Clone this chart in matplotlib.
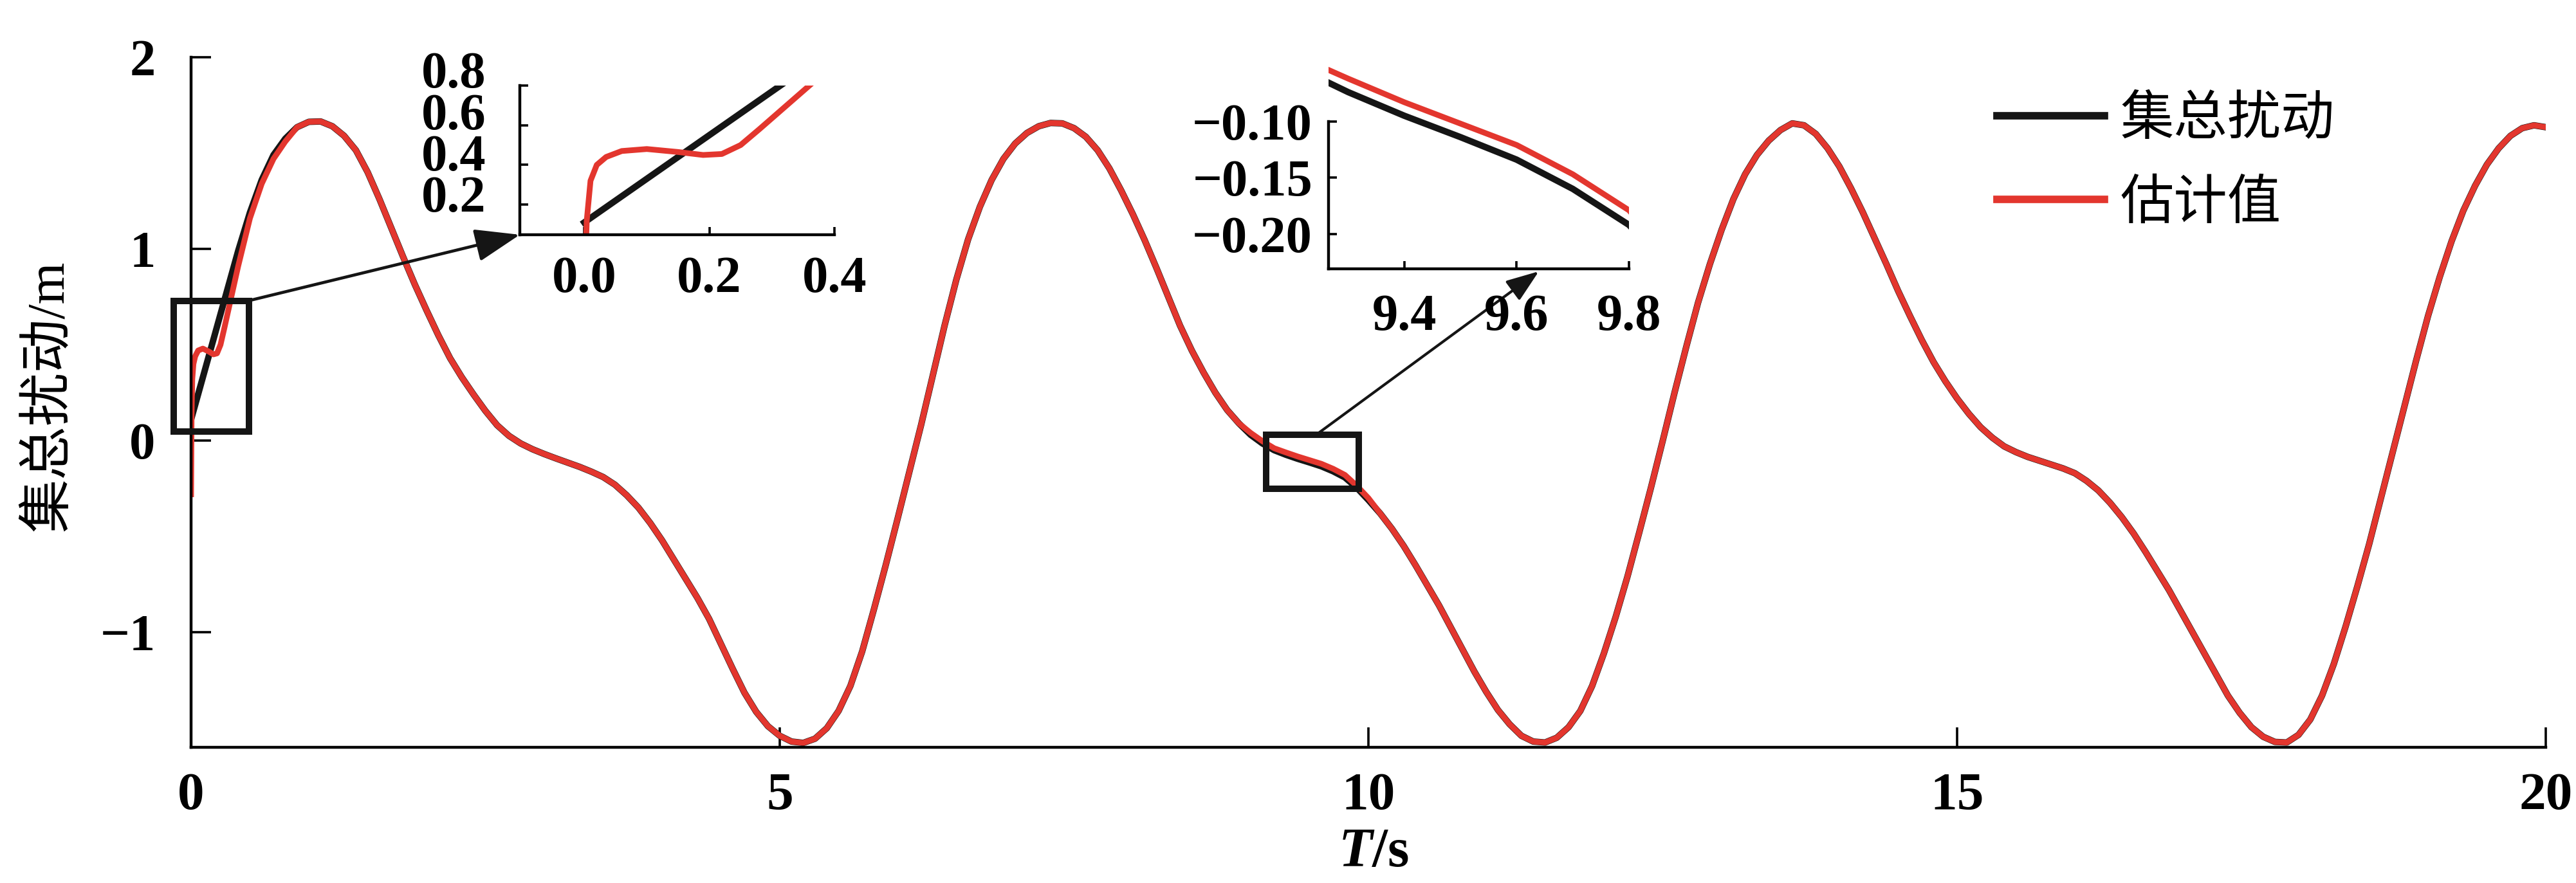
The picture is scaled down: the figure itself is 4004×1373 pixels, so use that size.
import numpy as np
import matplotlib
matplotlib.use('Agg')
import matplotlib.pyplot as plt
from matplotlib.patches import Rectangle

plt.rcParams['font.family'] = ['Liberation Serif', 'Noto Sans CJK SC']
plt.rcParams['axes.unicode_minus'] = True
plt.rcParams['mathtext.fontset'] = 'custom'
plt.rcParams['mathtext.it'] = 'Liberation Serif:italic:bold'
plt.rcParams['mathtext.rm'] = 'Liberation Serif:bold'

# ---- data ----
# sample times (s), every 0.1 s
t = np.linspace(0, 20, 201)

# 集总扰动 (black), one row per second
dist = [0.11, 0.33, 0.55, 0.77, 0.99, 1.19, 1.36, 1.49, 1.575, 1.635,
        1.663, 1.665, 1.64, 1.59, 1.515, 1.40, 1.26, 1.11, 0.96, 0.815,
        0.68, 0.55, 0.43, 0.33, 0.24, 0.155, 0.08, 0.025, -0.015, -0.045,
        -0.07, -0.093, -0.115, -0.137, -0.162, -0.19, -0.23, -0.285, -0.35, -0.43,
        -0.52, -0.62, -0.72, -0.82, -0.93, -1.06, -1.19, -1.315, -1.415, -1.49,
        -1.54, -1.57, -1.577, -1.555, -1.50, -1.41, -1.28, -1.10, -0.88, -0.65,
        -0.41, -0.165, 0.08, 0.34, 0.60, 0.84, 1.05, 1.22, 1.36, 1.47,
        1.55, 1.605, 1.64, 1.657, 1.655, 1.63, 1.585, 1.515, 1.42, 1.305,
        1.18, 1.045, 0.90, 0.75, 0.60, 0.47, 0.355, 0.25, 0.16, 0.09,
        0.03, -0.015, -0.05, -0.074, -0.095, -0.114, -0.134, -0.16, -0.192, -0.245,
        -0.31, -0.38, -0.46, -0.55, -0.65, -0.755, -0.86, -0.975, -1.09, -1.205,
        -1.31, -1.405, -1.48, -1.54, -1.57, -1.575, -1.55, -1.495, -1.41, -1.28,
        -1.11, -0.92, -0.71, -0.48, -0.245, 0.0, 0.25, 0.49, 0.72, 0.92,
        1.10, 1.26, 1.39, 1.49, 1.565, 1.62, 1.655, 1.645, 1.60, 1.525,
        1.43, 1.315, 1.19, 1.055, 0.92, 0.78, 0.65, 0.525, 0.41, 0.31,
        0.22, 0.14, 0.07, 0.015, -0.03, -0.06, -0.085, -0.105, -0.125, -0.145,
        -0.17, -0.21, -0.26, -0.325, -0.40, -0.485, -0.58, -0.68, -0.78, -0.89,
        -1.00, -1.11, -1.22, -1.33, -1.42, -1.495, -1.545, -1.572, -1.575, -1.535,
        -1.455, -1.33, -1.165, -0.97, -0.76, -0.54, -0.30, -0.06, 0.18, 0.42,
        0.65, 0.855, 1.04, 1.20, 1.33, 1.44, 1.525, 1.59, 1.63, 1.645,
        1.635]

# 估计值 (red): start-up transient, read separately
est_t0 = [0.0, 0.004, 0.01, 0.02, 0.035, 0.06, 0.10, 0.15, 0.19, 0.22,
          0.25, 0.28, 0.32, 0.36, 0.40, 0.50, 0.60, 0.70, 0.80]
est_y0 = [-0.28, 0.12, 0.32, 0.40, 0.44, 0.47, 0.48, 0.465, 0.45, 0.455,
          0.50, 0.58, 0.69, 0.80, 0.91, 1.16, 1.34, 1.47, 1.56]
# after t = 0.9 the estimate sits on the black curve, except around 9-10 s
# where the zoom shows it slightly above
est_fix_t = [9.0, 9.1, 9.2, 9.3, 9.4, 9.5, 9.6, 9.7, 9.8, 9.9, 10.0]
est_fix_y = [0.04, -0.003, -0.04, -0.062, -0.083, -0.102, -0.121, -0.147,
             -0.179, -0.235, -0.30]

labels = ['集总扰动', '估计值']
xticks = [0, 5, 10, 15, 20]
xtick_labels = ['0', '5', '10', '15', '20']
yticks = [-1, 0, 1, 2]
ytick_labels = ['\u22121', '0', '1', '2']

# zoom windows
z1_xlim, z1_ylim = (-0.103, 0.4), (0.048, 0.8)
z1_xticks, z1_xlabels = [0.0, 0.2, 0.4], ['0.0', '0.2', '0.4']
z1_yticks, z1_ylabels = [0.2, 0.4, 0.6, 0.8], ['0.2', '0.4', '0.6', '0.8']
z1_box = (-0.15, 0.49, 0.047, 0.73)

z2_xlim, z2_ylim = (9.265, 9.8), (-0.231, -0.045)
z2_xticks, z2_xlabels = [9.4, 9.6, 9.8], ['9.4', '9.6', '9.8']
z2_yticks = [-0.20, -0.15, -0.10]
z2_ylabels = ['\u22120.20', '\u22120.15', '\u22120.10']
z2_box = (9.13, 9.92, -0.25, 0.03)

BLACK = '#151515'
RED = '#e3362e'

est_grid = list(dist)
for tf, yf in zip(est_fix_t, est_fix_y):
    est_grid[int(round(tf * 10))] = yf
est_t = est_t0 + list(t[9:])
est_y = est_y0 + est_grid[9:]

W, H = 4004, 1373
fig = plt.figure(figsize=(W / 200, H / 200), dpi=200)

ax = fig.add_axes([297 / W, 1 - 1162 / H, 3660 / W, 1073 / H])
ax.plot(t, dist, color=BLACK, lw=3.6, label=labels[0])
ax.plot(est_t, est_y, color=RED, lw=3.2, label=labels[1])
ax.set_xlim(0, 20)
ax.set_ylim(-1.6, 2)
ax.set_xticks(xticks, xtick_labels, fontweight='bold')
ax.set_yticks(yticks, ytick_labels, fontweight='bold')
for s in ['top', 'right']:
    ax.spines[s].set_visible(False)
for s in ['left', 'bottom']:
    ax.spines[s].set_linewidth(1.6)
ax.tick_params(direction='in', length=11, width=1.3, labelsize=29)
ax.tick_params(axis='x', pad=14, labelsize=30)
ax.tick_params(axis='y', pad=20)

leg = ax.legend(loc='upper left', bbox_to_anchor=(3104 / W, 1 - 142 / H),
                bbox_transform=fig.transFigure, frameon=False,
                prop={'family': 'Noto Sans CJK SC', 'size': 30},
                handlelength=2.0, handletextpad=0.3, labelspacing=0.52,
                borderpad=0, borderaxespad=0)
for ln in leg.get_lines():
    ln.set_linewidth(4.2)

fig.text(77 / W, 1 - 615 / H, '集总扰动/m', rotation=90, ha='center',
         va='center', fontsize=30)
fig.text(2135 / W, 1 - 1326 / H, '$T$/s', ha='center', va='center',
         fontsize=31, fontweight='bold')


def inset(rect, xlim, ylim, xt, xl, yt, yl, ypad, xpad, ytop=None):
    a = fig.add_axes(rect)
    a.patch.set_alpha(0)
    a.plot(t, dist, color=BLACK, lw=3.6)
    a.plot(est_t, est_y, color=RED, lw=3.2)
    a.set_xlim(*xlim)
    a.set_ylim(*ylim)
    a.set_xticks(xt, xl, fontweight='bold')
    a.set_yticks(yt, yl, fontweight='bold')
    for s in ['top', 'right']:
        a.spines[s].set_visible(False)
    for s in ['left', 'bottom']:
        a.spines[s].set_linewidth(1.6)
    if ytop is not None:
        a.spines['left'].set_bounds(ylim[0], ytop)
    a.tick_params(direction='in', length=4.5, width=1.3, labelsize=29)
    a.tick_params(axis='y', pad=ypad)
    a.tick_params(axis='x', pad=xpad)
    return a


ax1 = inset([808 / W, 1 - 365 / H, 489 / W, 232 / H], z1_xlim, z1_ylim,
            z1_xticks, z1_xlabels, z1_yticks, [''] * len(z1_yticks), 19, 12)
# the first inset's y labels are packed tightly, set them as one stacked block
ax1.text(-0.108, 0.655, '\n'.join(z1_ylabels[::-1]), transform=ax1.transAxes,
         ha='right', va='center', multialignment='right', fontsize=29,
         fontweight='bold', linespacing=0.84)

ax2 = inset([2065 / W, 1 - 418 / H, 467 / W, 325.5 / H], z2_xlim, z2_ylim,
            z2_xticks, z2_xlabels, z2_yticks, z2_ylabels, 9, 14, ytop=-0.10)

# boxes on the main curve
for (x0, x1, y0, y1) in [z1_box, z2_box]:
    ax.add_patch(Rectangle((x0, y0), x1 - x0, y1 - y0, fill=False,
                           ec=BLACK, lw=3.6, clip_on=False, zorder=5))

# arrows from boxes to insets
ax.annotate('', xy=(0, 0), xycoords=ax1.transAxes,
            xytext=(z1_box[1], z1_box[3]), textcoords='data',
            arrowprops=dict(arrowstyle='-|>,head_length=0.6,head_width=0.22',
                            mutation_scale=36, lw=1.7, color=BLACK,
                            shrinkA=0, shrinkB=0), annotation_clip=False)
ax.annotate('', xy=(0.7, -0.012), xycoords=ax2.transAxes,
            xytext=((z2_box[0] + z2_box[1]) / 2 + 0.03, z2_box[3]),
            textcoords='data',
            arrowprops=dict(arrowstyle='-|>,head_length=0.6,head_width=0.22',
                            mutation_scale=26, lw=1.5, color=BLACK,
                            shrinkA=0, shrinkB=0), annotation_clip=False)

fig.savefig('out.png', dpi=200)
